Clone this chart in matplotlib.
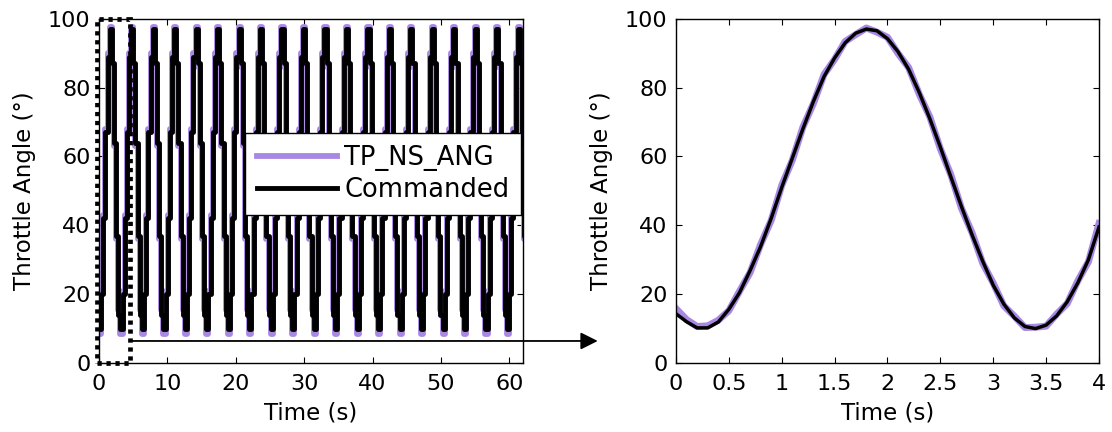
import numpy as np
import matplotlib
matplotlib.use("Agg")
import matplotlib.pyplot as plt
from matplotlib.patches import Rectangle, ConnectionPatch

plt.rcParams["font.family"] = ["DejaVu Sans"]

PURPLE = "#a988e4"

# left panel: one sampled cycle (zero-order hold), repeated over the run
CYCLE_PERIOD = 3.14
N_CYCLES = 20
commanded_cycle = [10, 20, 42, 67, 89, 97, 87, 64, 37, 14]
measured_cycle = [8.5, 21, 43, 68, 90, 97.5, 86, 63, 36, 15.5]

# right panel: first 4 s, read every 0.1 s
zoom_time = [0.0, 0.1, 0.2, 0.3, 0.4, 0.5, 0.6, 0.7, 0.8, 0.9,
             1.0, 1.1, 1.2, 1.3, 1.4, 1.5, 1.6, 1.7, 1.8, 1.9,
             2.0, 2.1, 2.2, 2.3, 2.4, 2.5, 2.6, 2.7, 2.8, 2.9,
             3.0, 3.1, 3.2, 3.3, 3.4, 3.5, 3.6, 3.7, 3.8, 3.9, 4.0]
zoom_commanded = [14.3, 12.0, 10.2, 10.2, 11.9, 15.6, 20.4, 26.8, 33.8, 42.0,
                  51.0, 59.5, 68.0, 76.0, 83.2, 88.6, 93.0, 95.8, 97.0, 96.5,
                  94.2, 90.4, 85.3, 78.6, 71.0, 62.7, 54.0, 45.4, 37.2, 29.6,
                  22.6, 17.1, 13.1, 10.6, 10.0, 11.0, 13.7, 17.8, 23.3, 30.0, 39.5]
zoom_measured = [15.8, 12.6, 10.6, 10.8, 12.4, 15.2, 20.8, 26.2, 34.4, 41.4,
                 51.6, 58.9, 68.5, 75.4, 83.8, 88.2, 93.4, 95.4, 97.3, 96.1,
                 94.6, 89.9, 85.8, 78.1, 71.5, 62.2, 54.6, 44.9, 37.8, 29.0,
                 23.2, 16.6, 13.6, 10.3, 10.4, 10.7, 14.2, 17.3, 23.9, 29.4, 40.5]

left_commanded = np.tile(commanded_cycle, N_CYCLES)
left_measured = np.tile(measured_cycle, N_CYCLES)
left_time = np.arange(len(left_commanded)) * CYCLE_PERIOD / len(commanded_cycle)

fig = plt.figure(figsize=(11.12, 4.32), dpi=100)
ax1 = fig.add_axes([0.0890, 0.1597, 0.3813, 0.797])
ax2 = fig.add_axes([0.6079, 0.1597, 0.3804, 0.797])

ax1.plot(left_time, left_measured, color=PURPLE, lw=4.2, drawstyle="steps-post",
         label="TP_NS_ANG")
ax1.plot(left_time, left_commanded, color="black", lw=3.5, drawstyle="steps-post",
         label="Commanded")
ax1.set_xlim(0, 62)
ax1.set_ylim(0, 100)
ax1.set_xticks(range(0, 61, 10))
ax1.set_yticks(range(0, 101, 20))

leg = ax1.legend(loc="upper left", bbox_to_anchor=(0.3455, 0.668), fontsize=18.5,
                 frameon=True, fancybox=False, framealpha=1, edgecolor="black",
                 handlelength=3.1, borderpad=0.45, labelspacing=0.25,
                 handletextpad=0.3, borderaxespad=0)
leg.get_frame().set_linewidth(1.0)

ax2.plot(zoom_time, zoom_measured, color=PURPLE, lw=5)
ax2.plot(zoom_time, zoom_commanded, color="black", lw=2.5)
ax2.set_xlim(0, 4)
ax2.set_ylim(0, 100)
ax2.set_xticks([0, 0.5, 1, 1.5, 2, 2.5, 3, 3.5, 4])
ax2.set_xticklabels(["0", "0.5", "1", "1.5", "2", "2.5", "3", "3.5", "4"])
ax2.set_yticks(range(0, 101, 20))

for ax in (ax1, ax2):
    ax.set_xlabel("Time (s)", fontsize=16.5, labelpad=5)
    ax.set_ylabel("Throttle Angle (°)", fontsize=16.5, labelpad=9)
    ax.tick_params(direction="in", length=4, width=0.8, labelsize=16,
                   top=True, right=True)
    ax.tick_params(axis="x", pad=8)
    ax.tick_params(axis="y", pad=6)
    for s in ax.spines.values():
        s.set_linewidth(1.0)

# dotted box marking the zoomed window
box = Rectangle((-0.3, 0), 4.85, 100, fill=False, ec="black", lw=3.4,
                ls=(0, (0.9, 1.0)), clip_on=False, zorder=5)
ax1.add_patch(box)

arrow = ConnectionPatch(xyA=(4.55, 6.4), coordsA=ax1.transData,
                        xyB=(-0.74, 6.4), coordsB=ax2.transData,
                        arrowstyle="-|>", mutation_scale=26, lw=1.3,
                        color="black", zorder=6)
fig.add_artist(arrow)

fig.savefig("out.png", dpi=100)
